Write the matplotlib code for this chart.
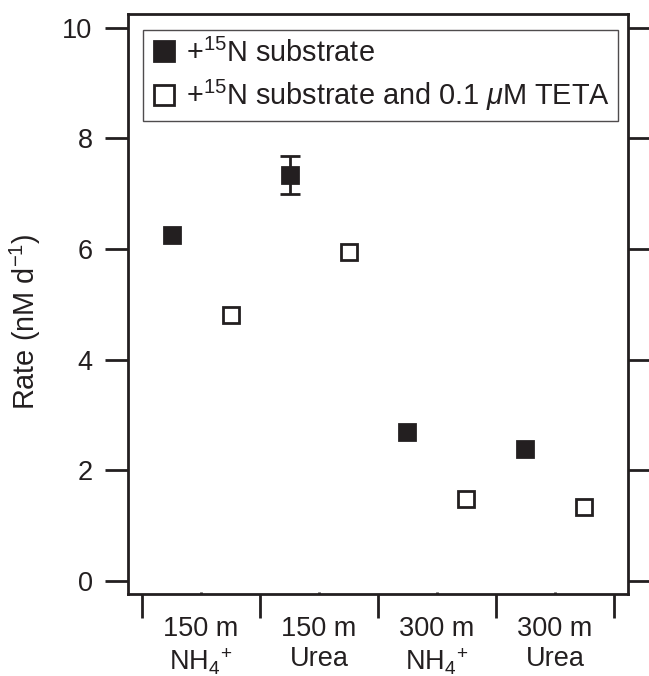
import matplotlib
matplotlib.use("Agg")
import matplotlib.pyplot as plt
import numpy as np
from matplotlib.ticker import FixedLocator

plt.rcParams['font.family'] = ['Liberation Sans', 'DejaVu Sans']
plt.rcParams['mathtext.fontset'] = 'custom'
plt.rcParams['mathtext.rm'] = 'Liberation Sans'
plt.rcParams['mathtext.it'] = 'Liberation Sans:italic'
plt.rcParams['mathtext.bf'] = 'Liberation Sans:bold'

# ---- data ----
categories = ["150 m\nNH$_{4}{}^{+}$", "150 m\nUrea", "300 m\nNH$_{4}{}^{+}$", "300 m\nUrea"]
rate_substrate = [6.26, 7.34, 2.70, 2.38]
err_substrate = [0.0, 0.34, 0.0, 0.0]
rate_teta = [4.81, 5.94, 1.49, 1.34]
label_substrate = "+$^{15}$N substrate"
label_teta = "+$^{15}$N substrate and 0.1 $\\mu$M TETA"
y_ticks = [0, 2, 4, 6, 8, 10]

C = '#231f20'
FS = 19.5
LFS = 20.8

fig = plt.figure(figsize=(6.49, 6.76), dpi=100)
ax = fig.add_axes([128/649, 82/676, 500/649, 580/676])

x = np.arange(len(categories))
off = 0.25
ms = 11.7
mew = 2.0

rs = np.array(rate_substrate)
es = np.array(err_substrate)
has_err = es > 0
ax.errorbar((x - off)[has_err], rs[has_err], yerr=es[has_err], fmt='none',
            ecolor=C, elinewidth=2.0, capsize=7, capthick=2.0, zorder=2)
h_fill, = ax.plot(x - off, rate_substrate, 's', ms=ms, mfc=C, mec=C, mew=mew, zorder=3)
h_open, = ax.plot(x + off, rate_teta, 's', ms=ms, mfc='white', mec=C, mew=mew, zorder=3)

ax.set_xlim(-0.619, 3.619)
ax.set_ylim(-0.235, 10.25)

ax.set_yticks(y_ticks)
ax.set_yticklabels([str(v) for v in y_ticks], fontsize=FS, color=C)
ax.tick_params(axis='y', which='major', direction='out', length=16.5, width=2.0,
               color=C, left=True, right=True, labelright=False, pad=9)

# boundaries as major ticks, category centres as minor ticks with labels
ax.xaxis.set_major_locator(FixedLocator(np.arange(len(categories) + 1) - 0.5))
ax.xaxis.set_minor_locator(FixedLocator(x))
ax.set_xticklabels([''] * (len(categories) + 1))
ax.set_xticklabels(categories, minor=True, fontsize=FS, color=C)
ax.tick_params(axis='x', which='major', direction='out', length=17, width=2.0, color=C)
ax.tick_params(axis='x', which='minor', direction='in', length=1.5, width=2.0, color=C, pad=16)

for s in ax.spines.values():
    s.set_linewidth(2.0)
    s.set_color(C)

ax.set_ylabel("Rate (nM d$^{-1}$)", fontsize=LFS, color=C)
ax.yaxis.set_label_coords(-0.17, 0.469)

leg = ax.legend([h_fill, h_open], [label_substrate, label_teta],
                loc='upper left', bbox_to_anchor=(0.03, 0.972), borderaxespad=0,
                fontsize=LFS, frameon=True, fancybox=False, markerscale=1.25,
                handlelength=0.9, handletextpad=0.3, borderpad=0.28, labelspacing=0.36,
                numpoints=1)
leg.get_frame().set_edgecolor(C)
leg.get_frame().set_linewidth(1.0)
for t in leg.get_texts():
    t.set_color(C)

fig.savefig("out.png", dpi=100)
